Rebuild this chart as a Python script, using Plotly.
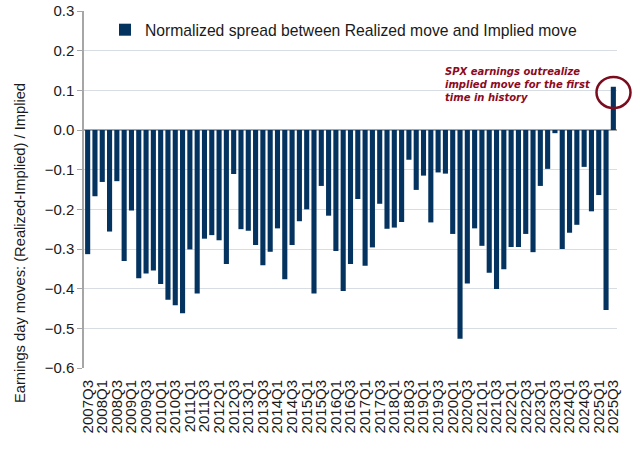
import plotly.graph_objects as go

# quarters 2007Q3 .. 2025Q3
quarters = [f"{y}Q{q}" for y in range(2007, 2026) for q in (1, 2, 3, 4)]
quarters = quarters[quarters.index("2007Q3"):quarters.index("2025Q3") + 1]

spread = [
    -0.313, -0.167, -0.131, -0.256, -0.129, -0.330, -0.203, -0.374, -0.362, -0.354,
    -0.388, -0.428, -0.442, -0.462, -0.301, -0.412, -0.274, -0.265, -0.278, -0.338,
    -0.111, -0.250, -0.254, -0.290, -0.341, -0.307, -0.248, -0.376, -0.290, -0.230,
    -0.200, -0.412, -0.141, -0.216, -0.305, -0.406, -0.338, -0.174, -0.342, -0.296,
    -0.186, -0.249, -0.246, -0.232, -0.075, -0.151, -0.115, -0.233, -0.107, -0.110,
    -0.262, -0.526, -0.387, -0.248, -0.292, -0.360, -0.401, -0.351, -0.295, -0.295,
    -0.262, -0.308, -0.141, -0.098, -0.008, -0.300, -0.259, -0.239, -0.093, -0.205,
    -0.164, -0.454, 0.109,
]

tick_labels = quarters[::2]
y_ticks = [0.3, 0.2, 0.1, 0.0, -0.1, -0.2, -0.3, -0.4, -0.5, -0.6]

series_name = "Normalized spread between Realized move and Implied move"
y_title = "Earnings day moves: (Realized-Implied) / Implied"
note_lines = ["SPX earnings outrealize", "implied move for the first", "time in history"]

BAR = "#05335f"
RED = "#8b0a1f"
FONT = "Liberation Sans, Arial, sans-serif"

W, H = 640, 455
px0, px1, py0, py1 = 84, 617, 11, 368
pw, ph = px1 - px0, py1 - py0


def fx(x):
    return (x - px0) / pw


def fy(y):
    return (py1 - y) / ph


fig = go.Figure()
fig.add_trace(go.Bar(
    x=quarters, y=spread, name=series_name,
    marker=dict(color=BAR, line=dict(width=0)), showlegend=True
))

# annotation lines, one per row to keep tight spacing
for i, line in enumerate(note_lines):
    fig.add_annotation(
        x=fx(443), y=fy(72 + i * 12.7), xref="paper", yref="paper",
        text=f"<b><i>{line}</i></b>", showarrow=False,
        xanchor="left", yanchor="middle",
        font=dict(family="DejaVu Sans, Verdana, sans-serif", size=10, color=RED)
    )

# ring around the last bar; paper refs so it is not clipped at the plot edge
fig.add_shape(
    type="circle", xref="paper", yref="paper",
    xsizemode="pixel", ysizemode="pixel",
    xanchor=fx(613.5), yanchor=fy(92.5),
    x0=-17, x1=17, y0=-15.5, y1=15.5,
    line=dict(color="#7a0c1e", width=2.5)
)

fig.add_annotation(
    x=fx(20), y=fy(243), xref="paper", yref="paper",
    text=y_title, textangle=-90, showarrow=False,
    xanchor="center", yanchor="middle",
    font=dict(family=FONT, size=14.7, color="#1a1a1a")
)

fig.update_layout(
    width=W, height=H,
    margin=dict(l=px0, r=W - px1, t=py0, b=H - py1),
    plot_bgcolor="white", paper_bgcolor="white",
    bargap=0.3,
    font=dict(family=FONT, size=15, color="#1a1a1a"),
    legend=dict(
        x=fx(105), y=fy(30), xanchor="left", yanchor="middle",
        bgcolor="rgba(0,0,0,0)", font=dict(size=15.7, color="#1a1a1a")
    ),
    xaxis=dict(
        type="category", range=[-0.5, len(quarters) - 0.5],
        tickvals=tick_labels, ticktext=tick_labels,
        tickangle=-90, ticks="", ticklabelstandoff=8, automargin=False,
        showgrid=False, showline=False,
        tickfont=dict(size=15, color="#1a1a1a")
    ),
    yaxis=dict(
        range=[-0.6, 0.3], tickvals=y_ticks, tickformat=".1f", automargin=False,
        showgrid=True, gridcolor="#d8dde4", gridwidth=1,
        zeroline=True, zerolinecolor="#a6a6a6", zerolinewidth=1.5,
        showline=True, linecolor="#a6a6a6", linewidth=1.5,
        ticks="outside", ticklen=5, tickcolor="#a6a6a6",
        tickfont=dict(size=15, color="#1a1a1a")
    ),
)

# drop the default page margin so the figure sits at the window corner
fig.write_html(
    "out.html",
    config={"displayModeBar": False},
    post_script="document.body.style.margin = '0';",
)
